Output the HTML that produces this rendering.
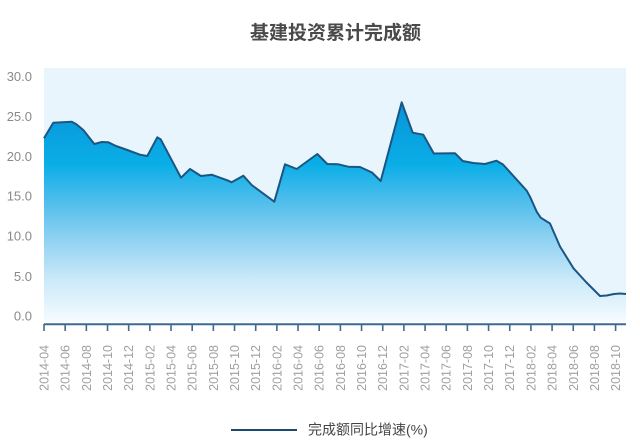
<!DOCTYPE html>
<html><head><meta charset="utf-8"><style>
html,body{margin:0;padding:0;background:#fff;}
svg{display:block;}
</style></head><body>
<svg width="640" height="447" viewBox="0 0 640 447" xmlns="http://www.w3.org/2000/svg">
<defs>
<linearGradient id="g" gradientUnits="userSpaceOnUse" x1="0" y1="100" x2="0" y2="322">
<stop offset="0" stop-color="#0892d8"/>
<stop offset="0.29" stop-color="#0aaee7"/>
<stop offset="0.45" stop-color="#4dbdec"/>
<stop offset="0.63" stop-color="#90d2f2"/>
<stop offset="0.81" stop-color="#cbe9f9"/>
<stop offset="1" stop-color="#f6fbfe"/>
</linearGradient>
</defs>
<text x="250" y="39" font-family="Liberation Sans, Noto Sans CJK SC, sans-serif" font-size="19" font-weight="bold" fill="#4a4a4a">基建投资累计完成额</text>
<rect x="44" y="68" width="582" height="254" fill="#e9f5fd"/>
<polygon fill="url(#g)" points="44,322 44,138.3 53.3,122.7 71.7,121.7 76,124 83.3,130 94.3,144 101.7,142 108.3,142.3 116,146 127.3,150 140,154.7 147.3,156 157.3,137.3 160.7,139.3 181,177.7 190,169 201,176 211.7,174.7 221.7,178.3 227.3,180.3 231.7,182.3 243.3,175.7 251.7,185 274.3,201.7 285,164.3 296.7,169 317.3,154 327.3,164 338.3,164.3 348.3,166.7 360,167 372,172.5 380.7,181 401.7,102.3 412.7,132.7 423.3,134.7 433.8,153.5 455,153.2 462.7,161 473.3,163 485,164 496.5,160.7 503,164.5 526.7,190.7 530,196.7 536.7,211.7 540.7,217.7 550,223.5 560,246.5 573.5,268.3 586,282 600,296 606.7,295.5 614,294 620,293.5 626,294 626,322"/>
<polyline fill="none" stroke="#1b5683" stroke-width="2" stroke-linejoin="round" points="44,138.3 53.3,122.7 71.7,121.7 76,124 83.3,130 94.3,144 101.7,142 108.3,142.3 116,146 127.3,150 140,154.7 147.3,156 157.3,137.3 160.7,139.3 181,177.7 190,169 201,176 211.7,174.7 221.7,178.3 227.3,180.3 231.7,182.3 243.3,175.7 251.7,185 274.3,201.7 285,164.3 296.7,169 317.3,154 327.3,164 338.3,164.3 348.3,166.7 360,167 372,172.5 380.7,181 401.7,102.3 412.7,132.7 423.3,134.7 433.8,153.5 455,153.2 462.7,161 473.3,163 485,164 496.5,160.7 503,164.5 526.7,190.7 530,196.7 536.7,211.7 540.7,217.7 550,223.5 560,246.5 573.5,268.3 586,282 600,296 606.7,295.5 614,294 620,293.5 626,294"/>
<g font-family="Liberation Sans, sans-serif" font-size="13" fill="#8a8a8a" text-anchor="end">
<text x="32" y="81">30.0</text>
<text x="32" y="121">25.0</text>
<text x="32" y="161">20.0</text>
<text x="32" y="200.5">15.0</text>
<text x="32" y="240.5">10.0</text>
<text x="32" y="281">5.0</text>
<text x="32" y="320.5">0.0</text>
</g>
<line x1="44" y1="324.3" x2="626" y2="324.3" stroke="#3d6a90" stroke-width="2"/>
<g stroke="#3d6a90" stroke-width="1.6" id="ticks"></g>
<g id="xl" font-family="Liberation Sans, sans-serif" font-size="12.5" fill="#a0a0a0" text-anchor="end"></g>
<line x1="231" y1="430" x2="297" y2="430" stroke="#1b4a70" stroke-width="2"/>
<text x="308" y="434.5" font-family="Liberation Sans, Noto Sans CJK SC, sans-serif" font-size="14" fill="#444">完成额同比增速(%)</text>
</svg>
<script>
(function(){
var ns="http://www.w3.org/2000/svg";
var t=document.getElementById("ticks"),xl=document.getElementById("xl");
var labels=[];
var y=2014,m=4;
for(var i=0;i<28;i++){labels.push(y+"-"+(m<10?"0":"")+m);m+=2;if(m>12){m-=12;y++;}}
for(var i=0;i<28;i++){
var x=44+i*21.17;
var l=document.createElementNS(ns,"line");
l.setAttribute("x1",x);l.setAttribute("x2",x);l.setAttribute("y1",324);l.setAttribute("y2",331);
t.appendChild(l);
var tx=document.createElementNS(ns,"text");
var bx=x+4.5,by=345;
tx.setAttribute("x",bx);tx.setAttribute("y",by);
tx.setAttribute("transform","rotate(-90 "+bx+" "+by+")");
tx.textContent=labels[i];
xl.appendChild(tx);
}
})();
</script>
</body></html>
